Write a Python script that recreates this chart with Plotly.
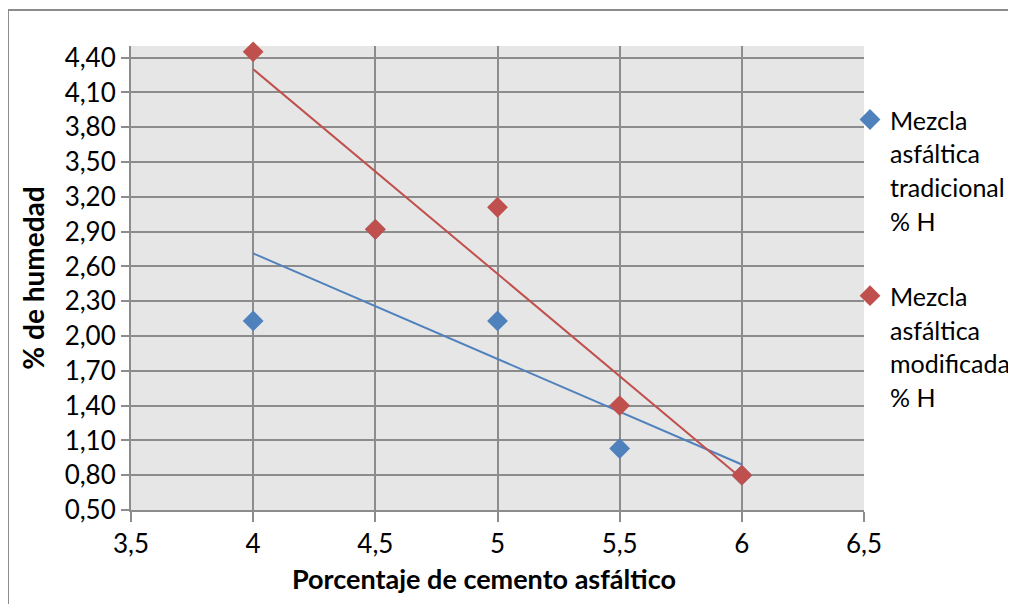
import numpy as np
import plotly.graph_objects as go

x_vals = [4, 4.5, 5, 5.5, 6]
tradicional = [2.13, 2.92, 2.13, 1.03, 0.80]
modificada = [4.45, 2.92, 3.11, 1.40, 0.80]
name_lines = [["Mezcla", "asfáltica", "tradicional", "% H"],
              ["Mezcla", "asfáltica", "modificada", "% H"]]
colors = ["#4F81BD", "#C0504D"]
x_title = "Porcentaje de cemento asfáltico"
y_title = "% de humedad"

FONT = "Lato"
fig = go.Figure()

x_arr = np.array(x_vals)
for ys, col in zip([tradicional, modificada], colors):
    m, b = np.polyfit(x_arr, np.array(ys), 1)
    xs = np.array([x_arr.min(), x_arr.max()])
    fig.add_trace(go.Scatter(x=xs, y=m * xs + b, mode="lines",
                             line=dict(color=col, width=2), showlegend=False, hoverinfo="skip"))

for i, (ys, lines, col) in enumerate(zip([tradicional, modificada], name_lines, colors)):
    name = "<br>".join(f'<span style="font-size:25px">{t}</span>' for t in lines)
    fig.add_trace(go.Scatter(x=x_vals, y=ys, mode="markers", name=name, legendgroup=f"g{i}",
                             cliponaxis=False,
                             marker=dict(symbol="diamond", size=16, color=col)))

# figure is 1008x596 because the page body adds an 8px margin
W, H = 1008, 596
L, R, T, B = 123, 152, 38, 94
pw, ph = W - L - R, H - T - B

fig.update_layout(
    width=W, height=H,
    margin=dict(l=L, r=R, t=T, b=B, autoexpand=False),
    paper_bgcolor="white", plot_bgcolor="#E6E6E6",
    separators=",.",
    font=dict(family=FONT, size=26, color="black"),
    legend=dict(x=(842 - L) / pw, y=0.892, xanchor="left", yanchor="top", valign="top",
                font=dict(family=FONT, size=26), itemwidth=30, tracegroupgap=38,
                bgcolor="rgba(0,0,0,0)"),
    xaxis=dict(range=[3.5, 6.5], dtick=0.5, tick0=3.5, showgrid=True, gridcolor="#8C8C8C", gridwidth=2,
               zeroline=False, showline=True, linecolor="#8C8C8C", linewidth=2,
               ticks="outside", ticklen=10, tickcolor="#8C8C8C", tickwidth=2),
    yaxis=dict(range=[0.5, 4.5], dtick=0.3, tick0=0.5, tickformat=".2f", showgrid=True,
               gridcolor="#8C8C8C", gridwidth=2, zeroline=False, showline=True,
               linecolor="#8C8C8C", linewidth=2, ticks="outside", ticklen=8,
               tickcolor="#8C8C8C", tickwidth=2,
               title=dict(text=f"<b>{y_title}</b>", standoff=12,
                          font=dict(family=FONT, size=28))),
    annotations=[dict(text=f"<b>{x_title}</b>", xref="paper", yref="paper",
                      x=(476 - L) / pw, y=-(570 - (T + ph)) / ph,
                      xanchor="center", yanchor="middle", showarrow=False,
                      font=dict(family=FONT, size=27))],
    shapes=[dict(type="rect", xref="paper", yref="paper",
                 x0=(0 - L) / pw, x1=(W + 20 - L) / pw,
                 y0=-(B + 30) / ph, y1=(ph + T - 2) / ph,
                 line=dict(color="#8C8C8C", width=2), layer="below")],
)
fig.write_html("out.html")
